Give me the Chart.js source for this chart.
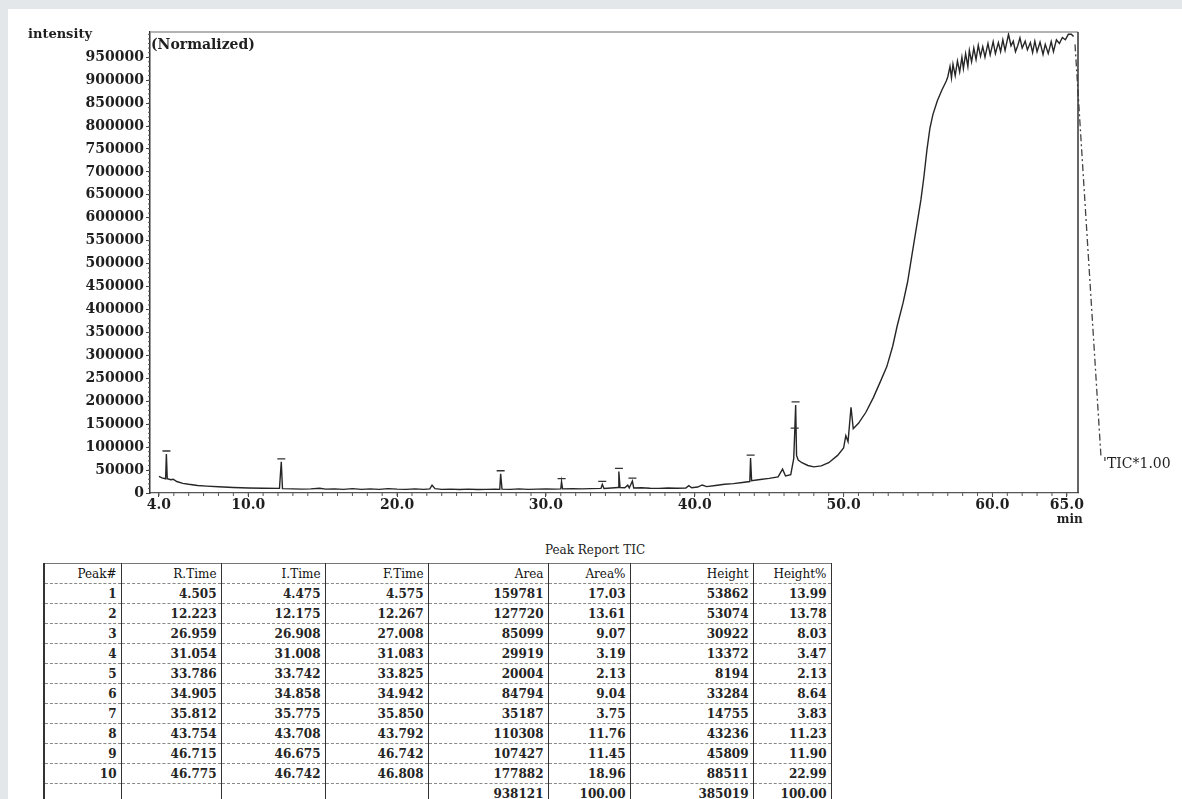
<!DOCTYPE html>
<html>
<head>
<meta charset="utf-8">
<script src="https://cdn.jsdelivr.net/npm/chart.js@4.4.0/dist/chart.umd.min.js"></script>
<style>
  html, body { margin: 0; padding: 0; }
  body { width: 1182px; height: 799px; background: #e4e7e9; position: relative; overflow: hidden; }
  #paper { position: absolute; left: 8px; top: 9px; right: 0; bottom: 0; background: #fff; }
  #chart { position: absolute; left: 0; top: 0; }
  #tblTitle { position: absolute; left: 530px; top: 543px; width: 130px; text-align: center;
    font: 12px "DejaVu Serif", serif; color: #222; }
  #peaks { position: absolute; left: 43px; top: 563px; border-collapse: collapse; table-layout: fixed;
    font: bold 12px "DejaVu Serif", serif; color: #242424; border-left: 2px solid #333; border-top: 1px solid #777; }
  #peaks td { height: 19px; padding: 0 4px 0 0; text-align: right; border-bottom: 1px dashed #888;
    border-right: 1.5px solid #333; white-space: nowrap; overflow: hidden; }
  #peaks tr.head td { font-weight: normal; color: #111; }
</style>
</head>
<body>
<div id="paper"></div>
<canvas id="chart" width="1182" height="532"></canvas>
<div id="tblTitle">Peak Report TIC</div>
<table id="peaks">
  <colgroup>
    <col style="width:77px"><col style="width:100px"><col style="width:104px"><col style="width:103px">
    <col style="width:120px"><col style="width:82px"><col style="width:123px"><col style="width:78px">
  </colgroup>
  <tbody></tbody>
</table>
<script>
// chromatogram (TIC)
const times = [
  4.0, 4.2, 4.45, 4.5, 4.56, 4.8, 4.96, 5.2, 5.6, 6.0, 6.6, 7.2, 8.0, 9.0, 10.0, 11.0, 12.1, 12.22, 12.3,
  13.0, 13.6, 14.2, 14.8, 15.2, 15.8, 16.4, 17.0, 17.6, 18.2, 18.8, 19.4, 20.0, 20.6, 21.2, 21.8, 22.2,
  22.35, 22.55, 23.0, 23.6, 24.2, 24.8, 25.4, 26.0, 26.6, 26.9, 26.96, 27.05, 27.6, 28.2, 28.8, 29.4,
  30.0, 30.6, 31.0, 31.05, 31.12, 31.8, 32.4, 33.0, 33.7, 33.79, 33.9, 34.4, 34.85, 34.9, 34.98, 35.3,
  35.5, 35.6, 35.81, 35.9, 36.4, 37.0, 37.6, 38.2, 38.8, 39.4, 39.6, 39.8, 40.2, 40.5, 40.8, 41.4, 42.0,
  42.6, 43.2, 43.7, 43.75, 43.82, 44.4, 45.0, 45.6, 45.9, 46.1, 46.45, 46.65, 46.72, 46.78, 46.84, 46.95,
  47.2, 47.6, 48.0, 48.5, 49.0, 49.6, 50.0, 50.15, 50.3, 50.5, 50.65, 51.0, 51.5, 52.0, 52.5, 52.9, 53.3,
  53.6, 54.0, 54.3, 54.6, 54.8, 55.0, 55.2, 55.4, 55.6, 55.8, 56.0, 56.3, 56.6, 56.9, 57.0, 57.15, 57.25,
  57.35, 57.5, 57.65, 57.8, 57.95, 58.05, 58.2, 58.35, 58.45, 58.6, 58.75, 58.9, 59.05, 59.2, 59.35, 59.5,
  59.7, 59.85, 60.05, 60.2, 60.4, 60.55, 60.7, 60.85, 61.08, 61.25, 61.4, 61.55, 61.7, 61.85, 62.0, 62.2,
  62.35, 62.55, 62.7, 62.85, 63.0, 63.2, 63.4, 63.55, 63.75, 63.95, 64.1, 64.3, 64.5, 64.7, 64.9, 65.1,
  65.3, 65.45
];
const intensity = [
  36000, 33000, 31000, 85000, 31000, 29000, 30000, 25000, 21000, 19000, 16500, 15000, 13500, 12000, 11000, 10500, 10000, 68000, 9500,
  9000, 8500, 9000, 10500, 8500, 9000, 8000, 9500, 8000, 9000, 8000, 9500, 8500, 8000, 9000, 8000, 9000,
  17000, 9500, 8000, 8500, 7500, 8500, 7500, 8000, 8500, 8000, 42000, 8500, 8000, 9000, 8000, 8500,
  9000, 8500, 9000, 25000, 9000, 9500, 9000, 9500, 10000, 19000, 10000, 11000, 12000, 47000, 12000, 11500,
  17000, 11000, 26000, 11000, 11500, 10500, 10000, 11000, 10500, 11000, 16000, 11500, 13000, 17500, 14000, 16500, 19000,
  20500, 23000, 25000, 76000, 27000, 29500, 32000, 35000, 52000, 37000, 40000, 75000, 135000, 192000, 82000, 72000,
  66000, 60000, 57000, 59000, 66000, 82000, 98000, 125000, 112000, 187000, 140000, 152000, 176000, 208000, 245000, 275000, 320000,
  364000, 415000, 460000, 520000, 560000, 600000, 640000, 690000, 748000, 795000, 825000, 855000, 878000, 898000, 907000, 930000, 905000,
  935000, 910000, 942000, 918000, 950000, 925000, 958000, 930000, 965000, 940000, 970000, 945000, 976000, 952000, 973000, 950000,
  980000, 955000, 984000, 958000, 982000, 962000, 988000, 965000, 1000000, 975000, 985000, 962000, 975000, 992000, 970000, 985000,
  966000, 982000, 960000, 985000, 962000, 983000, 956000, 978000, 958000, 984000, 962000, 988000, 980000, 993000, 988000, 1000000,
  1000000, 995000
];
// dash-dot scale marker on the right
const ticTimes = [65.55, 67.3];
const ticValues = [978000, 76000];

const xTickValues = [4, 10, 20, 30, 40, 50, 60, 65];
const yTickValues = [0, 50000, 100000, 150000, 200000, 250000, 300000, 350000, 400000, 450000, 500000,
  550000, 600000, 650000, 700000, 750000, 800000, 850000, 900000, 950000];

// peak report
const peakNo = [1, 2, 3, 4, 5, 6, 7, 8, 9, 10];
const rTime = ["4.505", "12.223", "26.959", "31.054", "33.786", "34.905", "35.812", "43.754", "46.715", "46.775"];
const iTime = ["4.475", "12.175", "26.908", "31.008", "33.742", "34.858", "35.775", "43.708", "46.675", "46.742"];
const fTime = ["4.575", "12.267", "27.008", "31.083", "33.825", "34.942", "35.850", "43.792", "46.742", "46.808"];
const area = [159781, 127720, 85099, 29919, 20004, 84794, 35187, 110308, 107427, 177882];
const areaPct = ["17.03", "13.61", "9.07", "3.19", "2.13", "9.04", "3.75", "11.76", "11.45", "18.96"];
const height = [53862, 53074, 30922, 13372, 8194, 33284, 14755, 43236, 45809, 88511];
const heightPct = ["13.99", "13.78", "8.03", "3.47", "2.13", "8.64", "3.83", "11.23", "11.90", "22.99"];
const totals = ["", "", "", "", "938121", "100.00", "385019", "100.00"];
// apex intensity of each numbered peak in the trace
const peakTops = [85000, 68000, 42000, 25000, 19000, 47000, 26000, 76000, 135000, 192000];

const serif = '"DejaVu Serif", serif';
const ink = "#1f1f1f";

const decor = {
  id: "decor",
  afterDraw(chart) {
    const { ctx, chartArea: a, scales: { x, y } } = chart;
    ctx.save();
    // frame top + right
    ctx.strokeStyle = "#9a9a9a";
    ctx.lineWidth = 1.5;
    ctx.beginPath();
    ctx.moveTo(a.left, a.top); ctx.lineTo(a.right, a.top);
    ctx.stroke();
    ctx.strokeStyle = "#333";
    ctx.beginPath();
    ctx.moveTo(a.right, a.top); ctx.lineTo(a.right, a.bottom);
    ctx.stroke();
    // minor ticks
    ctx.lineWidth = 1;
    ctx.strokeStyle = "#555";
    ctx.beginPath();
    for (let v = 10000; v < y.max; v += 10000) {
      const py = y.getPixelForValue(v);
      ctx.moveTo(a.left - 2, py); ctx.lineTo(a.left, py);
    }
    for (let t = 4; t <= 65; t += 1) {
      const px = x.getPixelForValue(t);
      ctx.moveTo(px, a.bottom); ctx.lineTo(px, a.bottom + 3);
    }
    ctx.stroke();
    // peak number caps
    ctx.strokeStyle = "#333";
    ctx.lineWidth = 1.3;
    ctx.beginPath();
    peakNo.forEach((n, i) => {
      const px = x.getPixelForValue(parseFloat(rTime[i]));
      const py = y.getPixelForValue(peakTops[i]) - 3;
      ctx.moveTo(px - 4, py); ctx.lineTo(px + 4, py);
    });
    ctx.stroke();
    // texts
    ctx.fillStyle = ink;
    ctx.textBaseline = "middle";
    ctx.textAlign = "left";
    ctx.font = "bold 13px " + serif;
    ctx.fillText("intensity", 28, 35);
    ctx.font = "bold 14px " + serif;
    ctx.fillText("(Normalized)", a.left + 1, 45);
    ctx.font = "14px " + serif;
    ctx.fillText("'TIC*1.00", x.getPixelForValue(ticTimes[1]) + 2, y.getPixelForValue(ticValues[1]) + 6);
    ctx.textAlign = "center";
    ctx.font = "bold 12px " + serif;
    ctx.fillText("min", x.getPixelForValue(65) + 3, a.bottom + 27);
    ctx.restore();
  }
};

new Chart(document.getElementById("chart"), {
  type: "line",
  data: {
    datasets: [{
      data: times.map((t, i) => ({ x: t, y: intensity[i] })),
      borderColor: "#262626",
      borderWidth: 1.4,
      pointRadius: 0,
      tension: 0
    }, {
      data: ticTimes.map((t, i) => ({ x: t, y: ticValues[i] })),
      borderColor: "#444",
      borderWidth: 1.3,
      borderDash: [7, 3, 2, 3],
      pointRadius: 0,
      clip: false
    }]
  },
  options: {
    responsive: false,
    animation: false,
    layout: { padding: { top: 32, right: 104, bottom: 9, left: 0 } },
    plugins: { legend: { display: false }, tooltip: { enabled: false } },
    scales: {
      x: {
        type: "linear",
        min: 3.4,
        max: 65.75,
        afterBuildTicks: (s) => { s.ticks = xTickValues.map((v) => ({ value: v })); },
        afterFit: (s) => { s.height = 30; },
        ticks: {
          autoSkip: false, maxRotation: 0, padding: 0, color: ink,
          font: { family: serif, size: 14, weight: "bold" },
          callback: (v) => Number(v).toFixed(1)
        },
        grid: { drawOnChartArea: false, tickLength: 4, color: "#444" },
        border: { color: "#555", width: 1.2, dash: [6, 3] }
      },
      y: {
        min: 0,
        max: 1005000,
        afterBuildTicks: (s) => { s.ticks = yTickValues.map((v) => ({ value: v })); },
        afterFit: (s) => { s.width = 150; },
        ticks: {
          autoSkip: false, padding: 2, color: ink,
          font: { family: serif, size: 14, weight: "bold" },
          callback: (v) => String(v)
        },
        grid: { drawOnChartArea: false, tickLength: 4, color: "#444" },
        border: { color: "#333", width: 1.5 }
      }
    }
  },
  plugins: [decor]
});

// table
const tbody = document.querySelector("#peaks tbody");
function addRow(cells, cls) {
  const tr = document.createElement("tr");
  if (cls) tr.className = cls;
  cells.forEach((c) => {
    const td = document.createElement("td");
    td.textContent = c;
    tr.appendChild(td);
  });
  tbody.appendChild(tr);
}
addRow(["Peak#", "R.Time", "I.Time", "F.Time", "Area", "Area%", "Height", "Height%"], "head");
peakNo.forEach((n, i) => {
  addRow([n, rTime[i], iTime[i], fTime[i], area[i], areaPct[i], height[i], heightPct[i]]);
});
addRow(totals);
</script>
</body>
</html>
